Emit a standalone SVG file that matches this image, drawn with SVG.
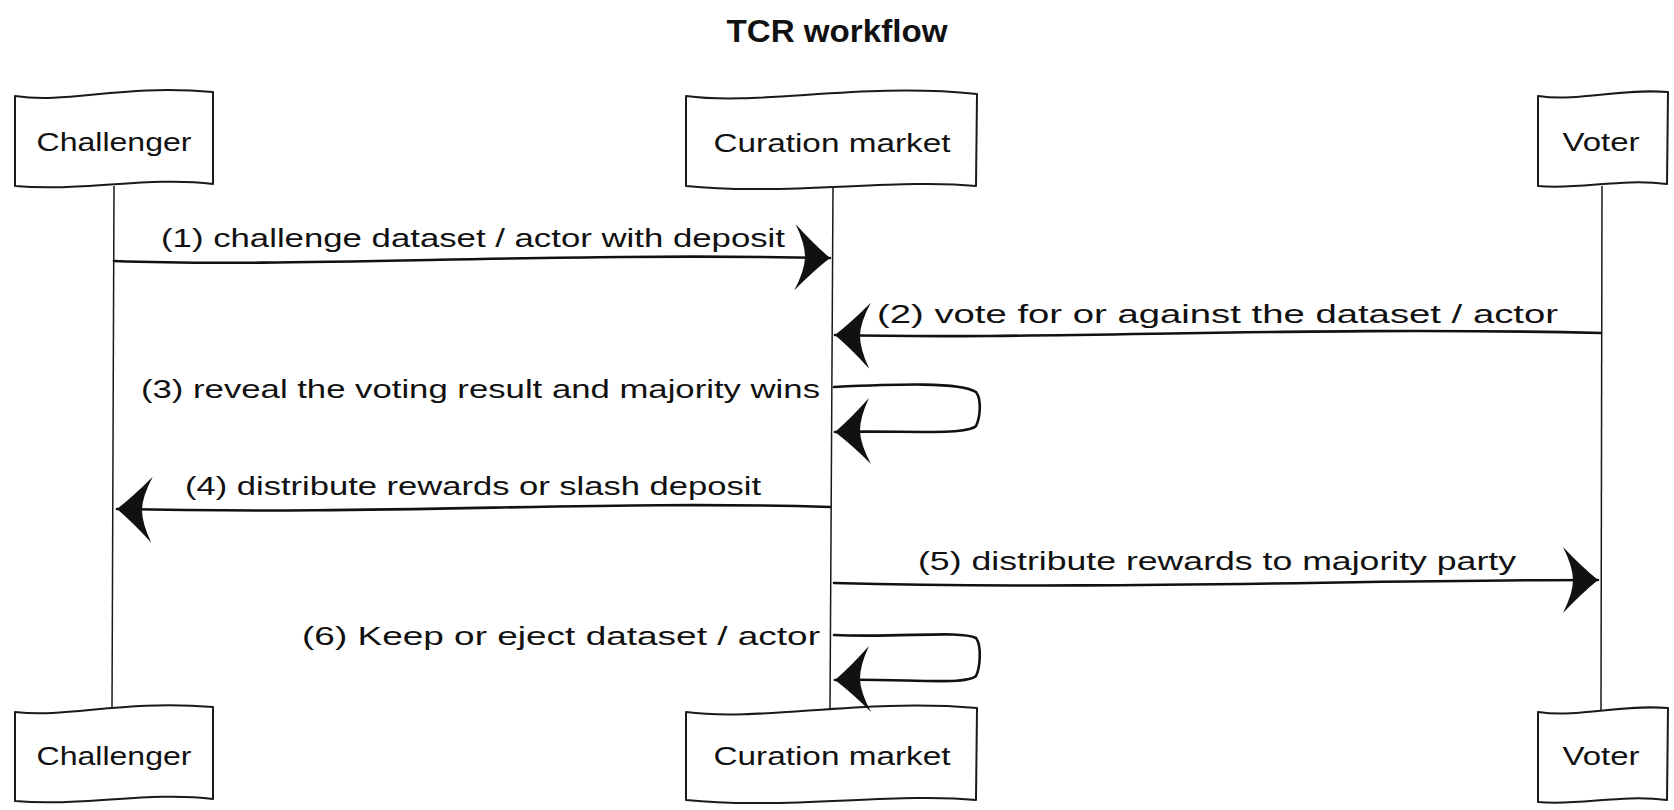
<svg xmlns="http://www.w3.org/2000/svg" width="1674" height="810" viewBox="0 0 1674 810">
<style>
.box{fill:#fff;stroke:#1a1a1a;stroke-width:2;stroke-linejoin:round}
.life{fill:none;stroke:#1a1a1a;stroke-width:1.5}
.msg{fill:none;stroke:#111;stroke-width:2.6;stroke-linecap:round}
.t{font-family:"Liberation Sans","DejaVu Sans",sans-serif;font-size:26px;fill:#111}
.title{font-family:"Liberation Sans","DejaVu Sans",sans-serif;font-size:31px;font-weight:bold;fill:#111}
</style>
<defs>
<marker id="ah" viewBox="0 0 40 70" markerWidth="40" markerHeight="70" refX="38" refY="35" orient="auto" markerUnits="userSpaceOnUse">
<path d="M38,35 Q22,22 3,2 Q13,22 13,35 Q13,48 3,68 Q22,48 38,35 Z" fill="#111"/>
</marker>
</defs>
<text class="title" x="837" y="42" text-anchor="middle" textLength="221" lengthAdjust="spacingAndGlyphs">TCR workflow</text>

<g id="lifelines">
<path class="life" d="M114,186 L112,710"/>
<path class="life" d="M833,188 L830,710"/>
<path class="life" d="M1602,186 L1601,710"/>
</g>

<g id="challenger-top">
<path class="box" d="M15,96 C70,104 120,84 213,92 L213,184 C150,176 80,192 15,186 Z"/>
<text class="t" x="114" y="151" text-anchor="middle" textLength="155" lengthAdjust="spacingAndGlyphs">Challenger</text>
</g>
<g id="curation-top">
<path class="box" d="M686,96 C760,106 860,82 977,94 L976,186 C900,178 780,196 686,186 Z"/>
<text class="t" x="832" y="152" text-anchor="middle" textLength="237" lengthAdjust="spacingAndGlyphs">Curation market</text>
</g>
<g id="voter-top">
<path class="box" d="M1538,96 C1580,102 1620,88 1668,92 L1667,184 C1620,178 1580,190 1538,186 Z"/>
<text class="t" x="1601" y="151" text-anchor="middle" textLength="77" lengthAdjust="spacingAndGlyphs">Voter</text>
</g>
<g id="challenger-bottom">
<path class="box" d="M15,712 C70,718 120,700 213,707 L213,799 C150,791 80,807 15,801 Z"/>
<text class="t" x="114" y="765" text-anchor="middle" textLength="155" lengthAdjust="spacingAndGlyphs">Challenger</text>
</g>
<g id="curation-bottom">
<path class="box" d="M686,712 C760,722 860,698 977,708 L976,800 C900,792 780,810 686,800 Z"/>
<text class="t" x="832" y="765" text-anchor="middle" textLength="237" lengthAdjust="spacingAndGlyphs">Curation market</text>
</g>
<g id="voter-bottom">
<path class="box" d="M1538,712 C1580,718 1620,704 1668,708 L1667,800 C1620,794 1580,806 1538,802 Z"/>
<text class="t" x="1601" y="765" text-anchor="middle" textLength="77" lengthAdjust="spacingAndGlyphs">Voter</text>
</g>

<g id="connectors">
<path class="msg" d="M114,261 C300,268 550,252 830,258" marker-end="url(#ah)"/>
<path class="msg" d="M1601,333 C1300,326 1050,340 835,335" marker-end="url(#ah)"/>
<path class="msg" d="M834,387 C900,384 960,382 976,392 C982,400 980,418 976,426 C965,436 900,430 835,432" marker-end="url(#ah)"/>
<path class="msg" d="M830,507 C600,500 400,515 117,509" marker-end="url(#ah)"/>
<path class="msg" d="M834,583 C1100,590 1350,580 1598,580" marker-end="url(#ah)"/>
<path class="msg" d="M834,635 C900,638 960,630 976,638 C982,646 980,668 976,676 C965,686 900,678 835,680" marker-end="url(#ah)"/>
</g>

<g id="labels">
<text class="t" x="161" y="247" textLength="624" lengthAdjust="spacingAndGlyphs">(1) challenge dataset / actor with deposit</text>
<text class="t" x="877" y="323" textLength="681" lengthAdjust="spacingAndGlyphs">(2) vote for or against the dataset / actor</text>
<text class="t" x="141" y="398" textLength="679" lengthAdjust="spacingAndGlyphs">(3) reveal the voting result and majority wins</text>
<text class="t" x="185" y="495" textLength="576" lengthAdjust="spacingAndGlyphs">(4) distribute rewards or slash deposit</text>
<text class="t" x="918" y="570" textLength="598" lengthAdjust="spacingAndGlyphs">(5) distribute rewards to majority party</text>
<text class="t" x="302" y="645" textLength="518" lengthAdjust="spacingAndGlyphs">(6) Keep or eject dataset / actor</text>
</g>
</svg>
